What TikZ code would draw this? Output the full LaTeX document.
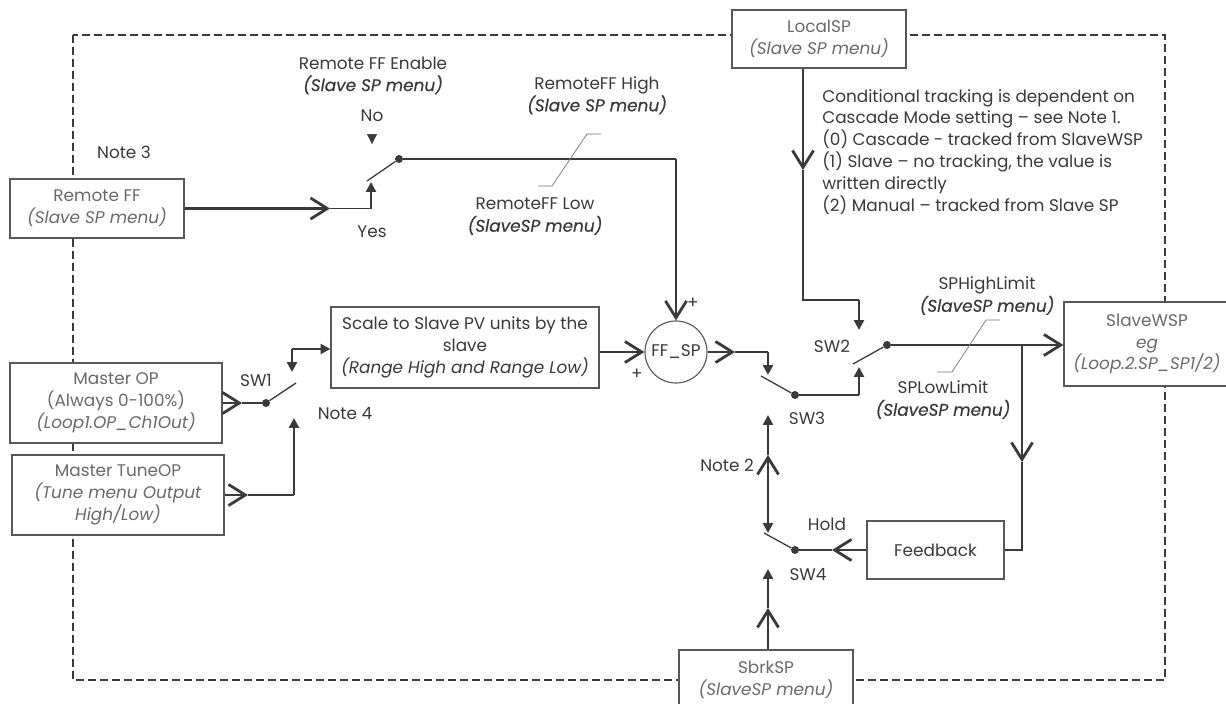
\documentclass[tikz,border=0pt]{standalone}
\usepackage{fontspec}
\setmainfont{Poppins}
\newfontfamily\menufont{Poppins}[FakeBold=0.5, ItalicFeatures={FakeBold=0.5}]
\usetikzlibrary{arrows.meta,positioning,calc,shapes.geometric}

\definecolor{linegray}{HTML}{3A3A3A}
\definecolor{boxtext}{HTML}{6A6A6A}

\newcommand{\menutext}[1]{{\menufont\itshape #1}}

\tikzset{
    barbtip/.tip={Straight Barb[length=12pt, width=15pt, line width=2pt]},
    tritip/.tip={Triangle[length=7pt, width=7pt]}
}

\begin{document}
\begin{tikzpicture}[
    x=0.025cm, y=-0.025cm,
    font=\fontsize{12}{15.5}\selectfont,
    box/.style={rectangle, draw=linegray!85, line width=0.8pt, fill=white, align=center, text=boxtext, inner sep=2pt},
    lbl/.style={text=linegray, align=center, inner sep=0pt},
    heavy/.style={draw=linegray, line width=2pt},
    light/.style={draw=linegray, line width=0.9pt},
    leader/.style={draw=linegray!70, line width=0.5pt},
    frame/.style={draw=linegray, line width=0.9pt, dash pattern=on 0.2cm off 0.1cm},
    barb/.style={-barbtip},
    tri/.style={-tritip},
    dot/.style={circle, fill=linegray, inner sep=0pt, minimum size=0.2cm}
]
    \useasboundingbox (0,0) rectangle (1226,704);

    % Frame
    \draw[frame] (73,35) rectangle (1165,680);

    % Blocks
    \node[box, minimum width=4.35cm, minimum height=1.475cm] (remoteff) at (97,208.5) {Remote FF\\\textit{(Slave SP menu)}};
    \node[box, minimum width=4.35cm, minimum height=1.45cm] (localsp) at (819,39) {LocalSP\\\textit{(Slave SP menu)}};
    \node[box, minimum width=5.3cm, minimum height=2cm] (masterop) at (116,403) {Master OP\\(Always 0-100\%)\\\textit{(Loop1.OP\_Ch1Out)}};
    \node[box, minimum width=5.3cm, minimum height=2cm] (tuneop) at (118,495) {Master TuneOP\\\textit{(Tune menu Output}\\\textit{High/Low)}};
    \node[box, text=linegray, minimum width=6.7cm, minimum height=2.025cm] (scale) at (465,347.5) {Scale to Slave PV units by the\\slave\\\textit{(Range High and Range Low)}};
    \node[circle, draw=linegray!85, line width=0.8pt, fill=white, minimum size=1.55cm, inner sep=0pt, text=linegray] (ffsp) at (676,352) {FF\_SP};
    \node[box, minimum width=4.15cm, minimum height=2.1cm] (slavewsp) at (1147,344) {SlaveWSP\\\textit{eg}\\\textit{(Loop.2.SP\_SP1/2)}};
    \node[box, text=linegray, minimum width=3.425cm, minimum height=1.45cm] (feedback) at (935.5,550) {Feedback};
    \node[box, minimum width=4.35cm, minimum height=1.475cm] (sbrksp) at (766,679.5) {SbrkSP\\\textit{(SlaveSP menu)}};

    % Switches
    \node[dot] (swff) at (399,159) {};
    \node[dot] (sw1) at (266,403) {};
    \node[dot] (sw3) at (795,395) {};
    \node[dot] (sw2) at (887,345) {};
    \node[dot] (sw4) at (795,550) {};

    \coordinate (swffb) at (367,181);
    \coordinate (sw1b) at (296,383);
    \coordinate (sw3b) at (761,376);
    \coordinate (sw2b) at (853,364);
    \coordinate (sw4b) at (764,533);

    \coordinate (swffyes) at (371,182);
    \coordinate (swffno) at (372,144);
    \coordinate (sw1up) at (292,372);
    \coordinate (sw1lo) at (294,418);
    \coordinate (sw3in) at (768,375);
    \coordinate (sw2lo) at (859,367);
    \coordinate (sw2up) at (859,330);
    \coordinate (sw3lo) at (768,415);
    \coordinate (sw4up) at (768,533);
    \coordinate (sw4lo) at (768,569);

    % Bends
    \coordinate (rffmid) at (330,208.5);
    \coordinate (rffbend) at (371,208.5);
    \coordinate (swffbend) at (676,159);
    \coordinate (mopmid) at (242,403);
    \coordinate (tunemid) at (248,495);
    \coordinate (tunebend) at (294,495);
    \coordinate (scalebend) at (292,349);
    \coordinate (ffout) at (735,352);
    \coordinate (ffbend) at (768,352);
    \coordinate (sw3bend) at (859,395);
    \coordinate (localmid) at (803,170);
    \coordinate (localbend) at (803,300);
    \coordinate (sw2bend) at (859,300);
    \coordinate (branch) at (1022,345);
    \coordinate (branchmid) at (1022,462);
    \coordinate (fbmid) at (832,550);
    \coordinate (note2mid) at (768,455);
    \coordinate (sbrkmid) at (768,608);

    % Remote FF
    \draw[heavy, barb] (remoteff.east) -- (rffmid);
    \draw[light] (rffmid) -- (rffbend);
    \draw[heavy, tri] (rffbend) -- (swffyes);
    \draw[light] (swffb) -- (swff);
    \draw[linegray, tri] ($(swffno)+(0,-10)$) -- (swffno);
    \draw[light] (swff) -- (swffbend);
    \draw[heavy, barb] (swffbend) -- (ffsp.north);

    % Master OP / SW1
    \draw[heavy, barb] (masterop.east) -- (mopmid);
    \draw[light] (mopmid) -- (sw1);
    \draw[light] (sw1) -- (sw1b);
    \draw[heavy, tri] (scalebend) -- (sw1up);
    \draw[heavy, tri] (scalebend) -- (scalebend -| scale.west);
    \draw[heavy, barb] (tuneop.east |- tunemid) -- (tunemid);
    \draw[light] (tunemid) -- (tunebend);
    \draw[heavy, tri] (tunebend) -- (sw1lo);

    % FF_SP / SW3 / SW2
    \draw[heavy, barb] (scale.east |- ffsp.west) -- (ffsp.west);
    \draw[heavy, barb] (ffsp.east) -- (ffout);
    \draw[light] (ffout) -- (ffbend);
    \draw[heavy, tri] (ffbend) -- (sw3in);
    \draw[light] (sw3b) -- (sw3);
    \draw[light] (sw3) -- (sw3bend);
    \draw[heavy, tri] (sw3bend) -- (sw2lo);
    \draw[light] (sw2b) -- (sw2);

    % LocalSP
    \draw[light, barb] (localsp.south -| localmid) -- (localmid);
    \draw[light] (localmid) -- (localbend) -- (sw2bend);
    \draw[heavy, tri] (sw2bend) -- (sw2up);

    % Output and feedback
    \draw[light, barb] (sw2) -- (slavewsp.west |- sw2);
    \draw[heavy, barb] (branch) -- (branchmid);
    \draw[light] (branchmid) -- (branch |- feedback.east) -- (feedback.east);
    \draw[heavy, barb] (feedback.west) -- (fbmid);
    \draw[light] (fbmid) -- (sw4);
    \draw[light] (sw4b) -- (sw4);

    % Note 2 / SbrkSP
    \draw[heavy, {tritip}-{barbtip}] (sw4up) -- (note2mid);
    \draw[heavy, tri] (note2mid) -- (sw3lo);
    \draw[heavy, barb] (sbrksp.north -| sbrkmid) -- (sbrkmid);
    \draw[heavy, tri] (sbrkmid) -- (sw4lo);

    % Limit leaders
    \draw[leader] (538,186) -- (552,186) -- (587,134) -- (601,134);
    \draw[leader] (937,372) -- (952,372) -- (986,320) -- (1000,320);

    % Labels
    \node[lbl] (note3) at (124,152) {Note 3};
    \node[lbl] (ffenable) at (373,75.5) {Remote FF Enable\\\menutext{(Slave SP menu)}};
    \node[lbl] (no) at (372,116) {No};
    \node[lbl] (yes) at (372,232) {Yes};
    \node[lbl] (ffhigh) at (597,95.5) {RemoteFF High\\\menutext{(Slave SP menu)}};
    \node[lbl] (fflow) at (535,216.5) {RemoteFF Low\\\menutext{(SlaveSP menu)}};
    \node[lbl] (plus1) at (693,303) {+};
    \node[lbl] (plus2) at (637,374) {+};
    \node[lbl] (sw1lbl) at (256,380) {SW1};
    \node[lbl] (note4) at (345,414) {Note 4};
    \node[lbl, align=left, anchor=north west] (cond) at (822,89) {Conditional tracking is dependent on\\Cascade Mode setting -- see Note 1.\\(0) Cascade - tracked from SlaveWSP\\(1) Slave -- no tracking, the value is\\written directly\\(2) Manual -- tracked from Slave SP};
    \node[lbl] (sphigh) at (987,296) {SPHighLimit\\\menutext{(SlaveSP menu)}};
    \node[lbl] (splow) at (943,400) {SPLowLimit\\\menutext{(SlaveSP menu)}};
    \node[lbl] (sw2lbl) at (832,346) {SW2};
    \node[lbl] (sw3lbl) at (807,418) {SW3};
    \node[lbl] (note2) at (727,465) {Note 2};
    \node[lbl] (hold) at (827,524) {Hold};
    \node[lbl] (sw4lbl) at (808,575) {SW4};
\end{tikzpicture}
\end{document}
